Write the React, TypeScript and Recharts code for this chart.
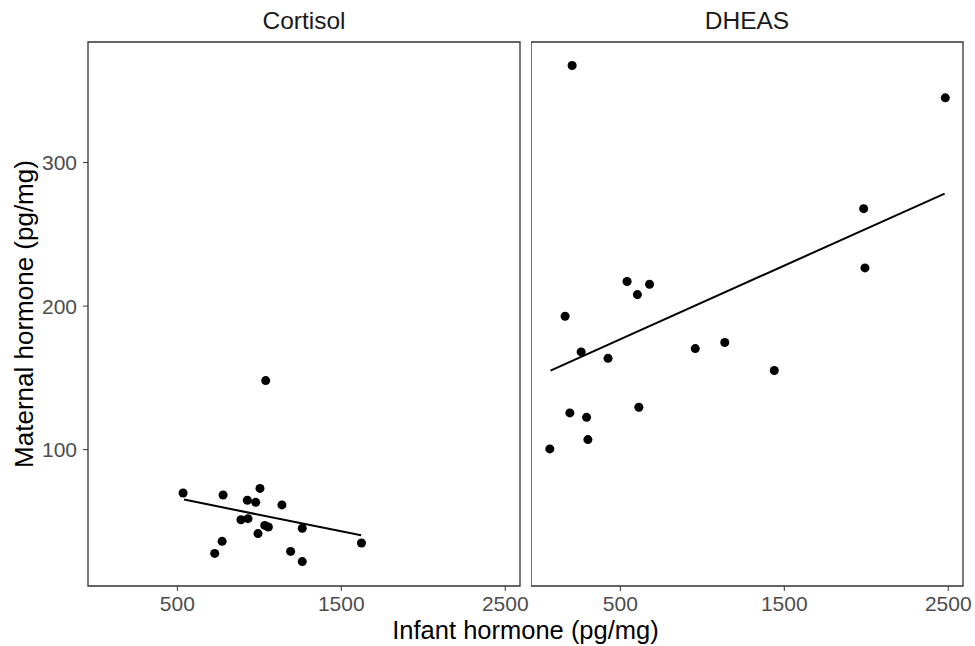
import React from 'react'
import {
  ScatterChart, Scatter, XAxis, YAxis, ZAxis, ReferenceArea, ReferenceLine,
} from 'recharts'

// shared scales (facet_wrap with fixed scales)
const X_DOMAIN = [-45, 2590]
const Y_DOMAIN = [5, 384]
const X_TICKS = [500, 1500, 2500]
const Y_TICKS = [100, 200, 300]

// Cortisol panel: infant vs maternal (pg/mg)
const cortisolInfant = [535, 779, 927, 978, 1004, 1138, 888, 931, 1033, 1055, 1262, 992, 773, 728, 1191, 1262, 1623, 1039]
const cortisolMaternal = [69.8, 68.4, 64.7, 63.3, 73.0, 61.5, 51.2, 51.9, 47.2, 46.1, 45.2, 41.5, 36.1, 27.7, 29.1, 22.0, 35.0, 148.1]
const cortisolFit = [{ x: 541, y: 65.2 }, { x: 1621, y: 40.3 }]

// DHEAS panel
const dheasInfant = [206, 2482, 1984, 1992, 541, 678, 604, 163, 261, 425, 957, 1137, 1439, 192, 294, 613, 302, 70]
const dheasMaternal = [367.6, 345.1, 267.9, 226.6, 217.1, 215.2, 208.0, 192.9, 168.1, 163.6, 170.4, 174.6, 155.1, 125.6, 122.5, 129.5, 107.0, 100.5]
const dheasFit = [{ x: 74, y: 155.1 }, { x: 2478, y: 278.4 }]

const toPoints = (xs: number[], ys: number[]) => xs.map((x, i) => ({ x, y: ys[i] }))

const FONT = '"Liberation Sans", Arial, Helvetica, sans-serif'
const tickStyle = { fontSize: 21, fill: '#4d4d4d' }

function Panel({ points, fit, showY, width, margin }: {
  points: { x: number, y: number }[]
  fit: { x: number, y: number }[]
  showY: boolean
  width: number
  margin: { top: number, right: number, bottom: number, left: number }
}) {
  return (
    <ScatterChart width={width} height={646} margin={margin}>
      <XAxis
        type="number" dataKey="x" domain={X_DOMAIN} ticks={X_TICKS} allowDataOverflow
        axisLine={false} tickLine={{ stroke: '#333' }} tickSize={5} tickMargin={5}
        tick={tickStyle} height={40} interval={0}
      />
      {showY ? (
        <YAxis
          type="number" dataKey="y" domain={Y_DOMAIN} ticks={Y_TICKS} allowDataOverflow
          axisLine={false} tickLine={{ stroke: '#333' }} tickSize={5} tickMargin={6}
          tick={tickStyle} width={88} interval={0}
          label={{
            value: 'Maternal hormone (pg/mg)', angle: -90, position: 'insideLeft', offset: 24,
            style: { textAnchor: 'middle', fontSize: 26, fill: '#000' },
          }}
        />
      ) : (
        <YAxis type="number" dataKey="y" domain={Y_DOMAIN} allowDataOverflow hide />
      )}
      <ZAxis range={[50, 50]} />
      <ReferenceArea
        x1={X_DOMAIN[0]} x2={X_DOMAIN[1]} y1={Y_DOMAIN[0]} y2={Y_DOMAIN[1]}
        fill="none" stroke="#333" strokeWidth={1.3} fillOpacity={0}
      />
      <Scatter data={points} fill="#000" isAnimationActive={false} />
      <ReferenceLine segment={fit} stroke="#000" strokeWidth={2} ifOverflow="visible" />
    </ScatterChart>
  )
}

export default function App() {
  const stripStyle: React.CSSProperties = {
    position: 'absolute', top: 9, width: 432, textAlign: 'center',
    fontSize: 24.5, lineHeight: '24px', color: '#1a1a1a',
  }
  return (
    <div style={{ position: 'absolute', left: 0, top: 0, width: 975, height: 646, overflow: 'hidden', background: '#fff', fontFamily: FONT }}>
      <div style={{ position: 'absolute', left: 0, top: 0 }}>
        <Panel
          points={toPoints(cortisolInfant, cortisolMaternal)} fit={cortisolFit} showY
          width={530} margin={{ top: 42, right: 10, bottom: 20, left: 0 }}
        />
      </div>
      <div style={{ position: 'absolute', left: 531, top: 0 }}>
        <Panel
          points={toPoints(dheasInfant, dheasMaternal)} fit={dheasFit} showY={false}
          width={444} margin={{ top: 42, right: 12, bottom: 20, left: 0 }}
        />
      </div>
      <div style={{ ...stripStyle, left: 88 }}>Cortisol</div>
      <div style={{ ...stripStyle, left: 531 }}>DHEAS</div>
      <div style={{
        position: 'absolute', left: 88, width: 875, top: 618, textAlign: 'center',
        fontSize: 25.5, lineHeight: '25px', color: '#000',
      }}>
        Infant hormone (pg/mg)
      </div>
    </div>
  )
}
